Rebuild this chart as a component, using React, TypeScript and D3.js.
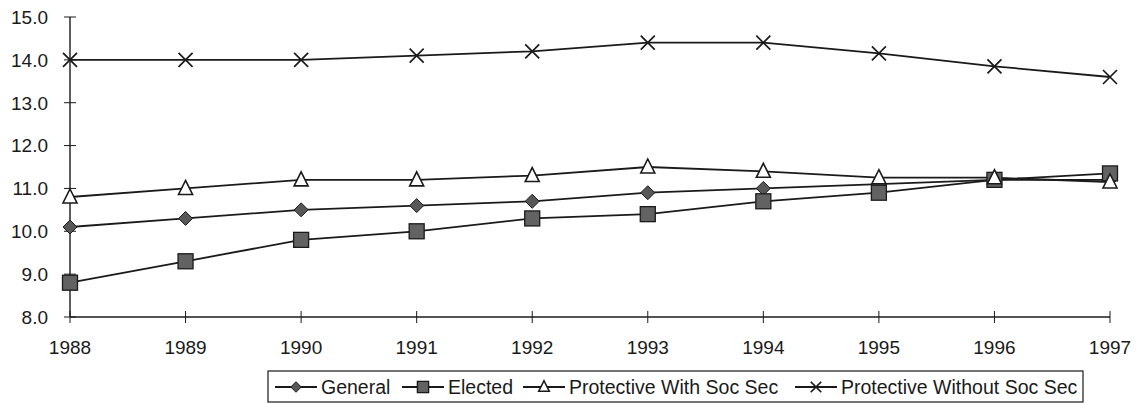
import React from "react";
import * as d3 from "d3";

const years = [1988, 1989, 1990, 1991, 1992, 1993, 1994, 1995, 1996, 1997];
const general = [10.1, 10.3, 10.5, 10.6, 10.7, 10.9, 11.0, 11.1, 11.2, 11.2];
const elected = [8.8, 9.3, 9.8, 10.0, 10.3, 10.4, 10.7, 10.9, 11.2, 11.35];
const protectiveWith = [10.8, 11.0, 11.2, 11.2, 11.3, 11.5, 11.4, 11.25, 11.25, 11.15];
const protectiveWithout = [14.0, 14.0, 14.0, 14.1, 14.2, 14.4, 14.4, 14.15, 13.85, 13.6];
const yTicks = [8, 9, 10, 11, 12, 13, 14, 15];

type Kind = "diamond" | "square" | "triangle" | "cross";
const series: { name: string; values: number[]; kind: Kind }[] = [
  { name: "General", values: general, kind: "diamond" },
  { name: "Elected", values: elected, kind: "square" },
  { name: "Protective With Soc Sec", values: protectiveWith, kind: "triangle" },
  { name: "Protective Without Soc Sec", values: protectiveWithout, kind: "cross" },
];

const W = 1137;
const H = 404;
const left = 70;
const right = 1110;
const top = 17;
const bottom = 317;
const font = "'Liberation Sans', Arial, sans-serif";
const ink = "#1a1a1a";

function Marker({ kind, x, y, k = 1 }: { kind: Kind; x: number; y: number; k?: number }) {
  if (kind === "diamond") {
    const r = 7 * k;
    return (
      <path
        d={`M${x},${y - r}L${x + r},${y}L${x},${y + r}L${x - r},${y}Z`}
        fill="#575757"
        stroke={ink}
        strokeWidth={1}
      />
    );
  }
  if (kind === "square") {
    const s = 7.5 * k;
    return (
      <rect x={x - s} y={y - s} width={2 * s} height={2 * s} fill="#626262" stroke={ink} strokeWidth={1.3} />
    );
  }
  if (kind === "triangle") {
    const s = 7 * k;
    return (
      <path
        d={`M${x},${y - s - 1}L${x + s},${y + s - 1}L${x - s},${y + s - 1}Z`}
        fill="#fff"
        stroke={ink}
        strokeWidth={1.6}
      />
    );
  }
  const c = 7 * k;
  return (
    <path
      d={`M${x - c},${y - c}L${x + c},${y + c}M${x - c},${y + c}L${x + c},${y - c}`}
      stroke={ink}
      strokeWidth={1.7}
      fill="none"
    />
  );
}

export default function App() {
  const x = d3.scalePoint<number>().domain(years).range([left, right]);
  const y = d3.scaleLinear().domain([8, 15]).range([bottom, top]);
  const line = d3
    .line<number>()
    .x((_, i) => x(years[i]) as number)
    .y((v) => y(v));

  const legendItems = [
    { kind: "diamond" as Kind, x0: 275, label: "General" },
    { kind: "square" as Kind, x0: 402, label: "Elected" },
    { kind: "triangle" as Kind, x0: 523, label: "Protective With Soc Sec" },
    { kind: "cross" as Kind, x0: 795, label: "Protective Without Soc Sec" },
  ];
  const ly = 387;

  return (
    <svg width={W} height={H} style={{ display: "block", position: "absolute", left: 0, top: 0 }}>
      <rect width={W} height={H} fill="#fff" />
      {/* axes */}
      <line x1={left} x2={left} y1={top} y2={bottom} stroke={ink} strokeWidth={1.4} />
      <line x1={left} x2={right} y1={bottom} y2={bottom} stroke={ink} strokeWidth={1.4} />
      {yTicks.map((t) => (
        <g key={t}>
          <line x1={left - 6} x2={left + 6} y1={y(t)} y2={y(t)} stroke={ink} strokeWidth={1} />
          <text
            x={48}
            y={y(t)}
            dy="0.36em"
            textAnchor="end"
            fontFamily={font}
            fontSize={19}
            fill={ink}
          >
            {t.toFixed(1)}
          </text>
        </g>
      ))}
      {years.map((yr) => (
        <g key={yr}>
          <line x1={x(yr)} x2={x(yr)} y1={bottom - 6} y2={bottom + 6} stroke={ink} strokeWidth={1} />
          <text x={x(yr)} y={bottom + 37} textAnchor="middle" fontFamily={font} fontSize={19} fill={ink}>
            {yr}
          </text>
        </g>
      ))}
      {/* series lines */}
      {series.map((s) => (
        <path key={s.name} d={line(s.values) || ""} fill="none" stroke={ink} strokeWidth={1.8} />
      ))}
      {series.map((s) =>
        s.values.map((v, i) => <Marker key={s.name + i} kind={s.kind} x={x(years[i]) as number} y={y(v)} />)
      )}
      {/* legend */}
      <rect x={268} y={371} width={815} height={31} fill="#fff" stroke={ink} strokeWidth={1.2} />
      {legendItems.map((it) => (
        <g key={it.label}>
          <line x1={it.x0} x2={it.x0 + 42} y1={ly} y2={ly} stroke={ink} strokeWidth={1.8} />
          <Marker kind={it.kind} x={it.x0 + 21} y={ly} k={0.75} />
          <text x={it.x0 + 46} y={ly} dy="0.36em" fontFamily={font} fontSize={19.5} fill={ink}>
            {it.label}
          </text>
        </g>
      ))}
    </svg>
  );
}
